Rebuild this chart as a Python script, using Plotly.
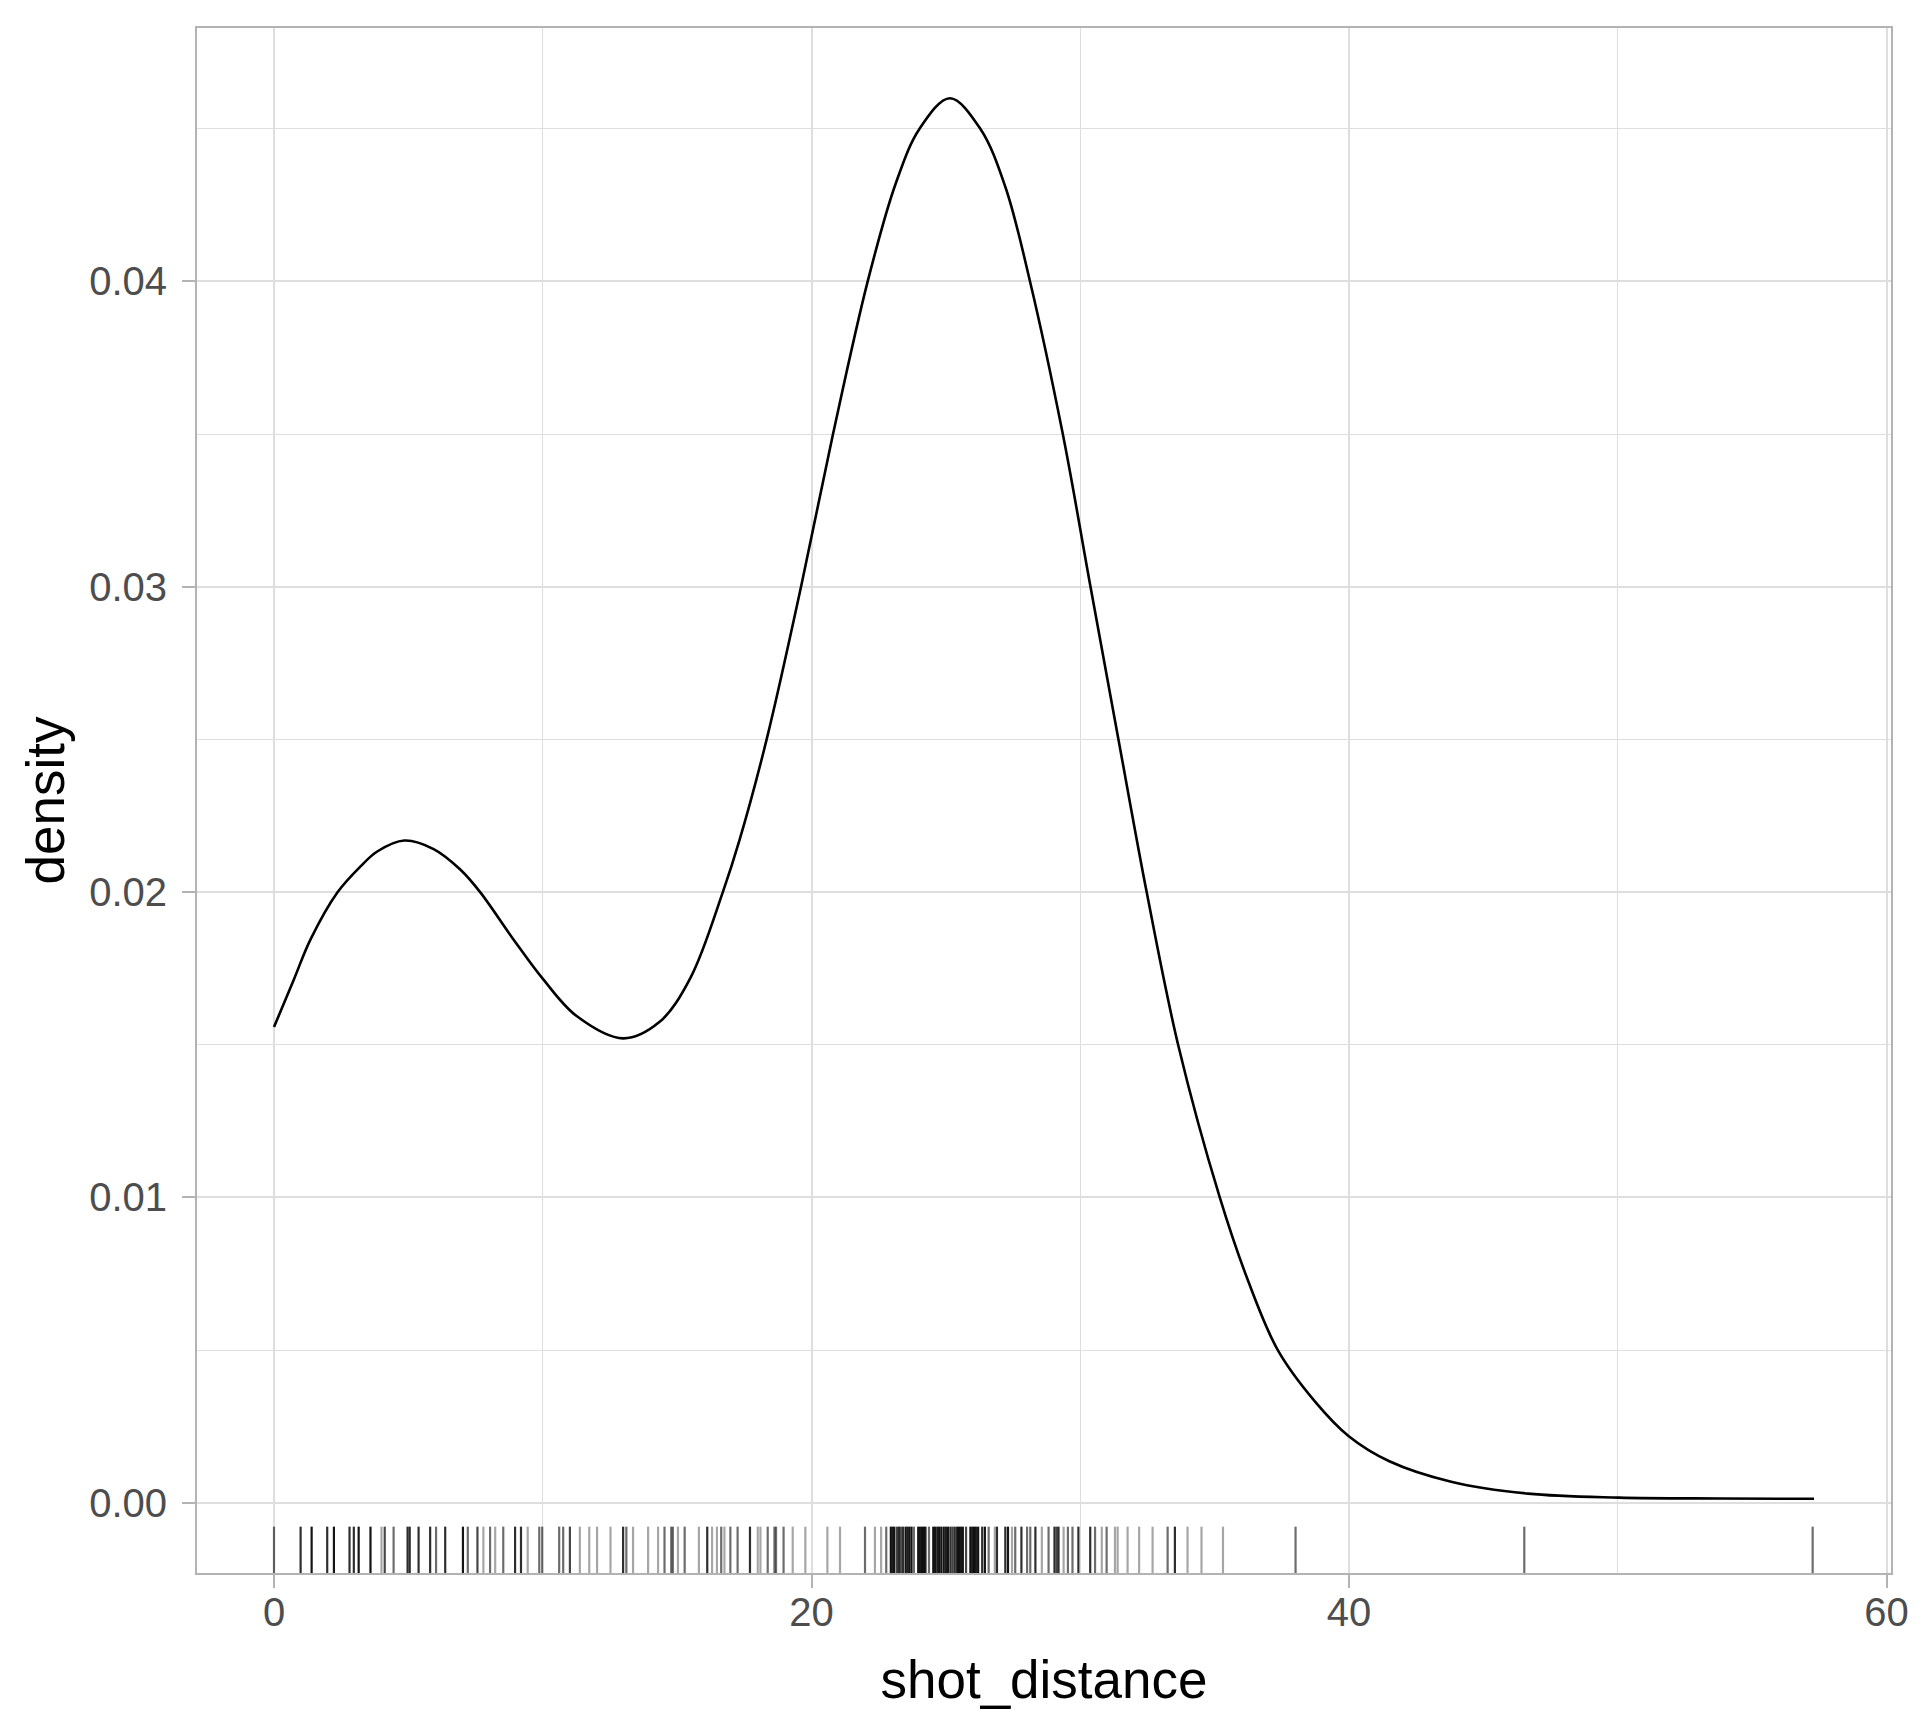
import plotly.graph_objects as go

# density curve (many points at gridline crossings)
dens_x = [0.0, 0.74, 1.36, 2.37, 3.22, 3.84, 4.85, 5.94, 6.93, 7.67, 8.91,
          10.02, 11.26, 12.99, 14.35, 15.50, 16.70, 17.32, 18.33,
          19.61, 20.80, 22.09, 23.13, 24.02, 25.15, 26.28,
          27.21, 28.13, 29.35, 30.38, 31.42, 32.47, 33.64, 35.19, 36.24,
          37.35, 38.72, 39.99, 41.5, 43.8, 46.66, 50.04, 53.8, 57.3]
dens_y = [0.01558, 0.01714, 0.01845, 0.02000, 0.02084, 0.02133, 0.02169,
          0.02141, 0.02074, 0.02000, 0.01845, 0.01714, 0.01594, 0.01521,
          0.01575, 0.01720, 0.02000, 0.02170, 0.02500,
          0.03000, 0.03500, 0.04000, 0.04320, 0.04500, 0.04600, 0.04500,
          0.04310, 0.04000, 0.03500, 0.03000, 0.02500,
          0.02000, 0.01500, 0.01000, 0.00728, 0.00500, 0.00333, 0.00218,
          0.00136, 0.00069, 0.00030, 0.00017, 0.00014, 0.00013]

# rug: shot distances and how many shots overlap at each
rug_x = [0.0, 0.99, 1.40, 1.98, 2.23, 2.81, 2.97, 3.15, 3.59, 4.0, 4.12,
         4.45, 4.97, 5.05, 5.38, 5.81, 6.03, 6.37, 7.03, 7.21, 7.57, 7.79,
         8.04, 8.23, 8.53, 8.97, 9.19, 9.44, 9.87, 9.98, 10.61, 10.76,
         11.01, 11.38, 11.73, 12.02, 12.52, 12.99, 13.11, 13.36, 13.92,
         14.29, 14.53, 14.78, 14.84, 15.03, 15.28, 15.81, 16.12, 16.30,
         16.48, 16.64, 16.76, 16.98, 17.25, 17.71, 18.00, 18.10, 18.37,
         18.62, 18.68, 18.96, 19.30, 19.77, 20.59, 21.06, 21.99, 22.36,
         22.59, 22.78, 22.95, 23.02, 23.08, 23.18, 23.25, 23.32, 23.40,
         23.50, 23.57, 23.64, 23.72, 23.81, 23.97, 24.04, 24.11, 24.18,
         24.24, 24.37, 24.53, 24.60, 24.68, 24.75, 24.83, 24.92, 25.00,
         25.08, 25.17, 25.25, 25.33, 25.42, 25.49, 25.56, 25.63, 25.75,
         25.91, 25.98, 26.05, 26.12, 26.20, 26.35, 26.45, 26.59, 26.82,
         26.90, 27.21, 27.31, 27.46, 27.58, 27.81, 28.02, 28.14, 28.33,
         28.57, 28.82, 29.04, 29.12, 29.19, 29.38, 29.54, 29.71, 29.93,
         30.37, 30.55, 30.80, 30.98, 31.29, 31.39, 31.76, 32.19, 32.69,
         33.25, 33.52, 33.99, 34.51, 35.31, 38.01, 46.52, 57.25]
rug_n = [2, 4, 6, 4, 6, 4, 4, 6, 6, 1, 3,
         2, 4, 4, 4, 4, 2, 4, 6, 2, 3, 1,
         2, 1, 2, 4, 4, 1, 2, 2, 2, 2,
         3, 1, 1, 1, 1, 4, 2, 1, 1,
         1, 2, 2, 2, 1, 2, 1, 4, 1,
         1, 2, 1, 2, 2, 4, 1, 1, 2,
         2, 2, 2, 1, 1, 1, 1, 2, 1,
         1, 2, 6, 5, 6, 3, 4, 3, 4,
         6, 5, 6, 6, 2, 6, 5, 6, 6,
         5, 2, 6, 6, 5, 6, 6, 6, 5,
         6, 4, 3, 4, 6, 6, 5, 6, 3,
         6, 5, 6, 5, 6, 4, 6, 2, 1,
         4, 4, 6, 1, 2, 4, 2, 2, 4,
         1, 2, 4, 3, 4, 1, 2, 2, 4,
         4, 2, 1, 2, 1, 1, 1, 1, 1,
         2, 4, 1, 1, 1, 2, 2, 2]

font = "Liberation Sans, Arial, Helvetica, sans-serif"
grid = "#dedede"
border = "#b3b3b3"

fig = go.Figure()

fig.add_trace(go.Scatter(
    x=dens_x, y=dens_y, mode="lines",
    line=dict(color="black", width=2.6, shape="spline", smoothing=1.0),
    showlegend=False, hoverinfo="skip",
))

# one trace per overlap level so the darkness builds like alpha stacking
for n in sorted(set(rug_n)):
    xs, ys = [], []
    for v, c in zip(rug_x, rug_n):
        if c == n:
            xs += [v, v, None]
            ys += [0, 0.03, None]
    alpha = 1 - (1 - 0.35) ** n
    fig.add_trace(go.Scatter(
        x=xs, y=ys, yaxis="y2", mode="lines",
        line=dict(color=f"rgba(0,0,0,{alpha:.3f})", width=2.2),
        showlegend=False, hoverinfo="skip",
    ))

axis_common = dict(
    showline=True, linecolor=border, linewidth=2, mirror=True,
    ticks="outside", ticklen=13, tickwidth=2, tickcolor=border,
    tickfont=dict(family=font, size=40, color="#4d4d4d"),
    showgrid=True, gridcolor=grid, gridwidth=2, zeroline=False,
    automargin=False,
)

fig.update_layout(
    width=1920, height=1728,
    margin=dict(l=197, r=29, t=28, b=155),
    plot_bgcolor="white", paper_bgcolor="white",
    font=dict(family=font),
    xaxis=dict(
        range=[-2.865, 60.165], tick0=0, dtick=20,
        minor=dict(dtick=10, tick0=0, showgrid=True, gridcolor=grid,
                   gridwidth=1, ticks=""),
        title=dict(text="shot_distance", standoff=28,
                   font=dict(family=font, size=53, color="black")),
        ticklabelstandoff=-10,
        **axis_common,
    ),
    yaxis=dict(
        range=[-0.0023, 0.0483], tick0=0, dtick=0.01, tickformat=".2f",
        minor=dict(dtick=0.005, tick0=0, showgrid=True, gridcolor=grid,
                   gridwidth=1, ticks=""),
        title=dict(text="density", standoff=8,
                   font=dict(family=font, size=53, color="black")),
        ticklabelstandoff=7,
        **axis_common,
    ),
    yaxis2=dict(overlaying="y", range=[0, 1], visible=False, fixedrange=True),
)

# the page's default body margin would push the figure 8px off the window
fig.write_html("out.html", config={"displayModeBar": False},
               post_script="document.body.style.margin='0';")
